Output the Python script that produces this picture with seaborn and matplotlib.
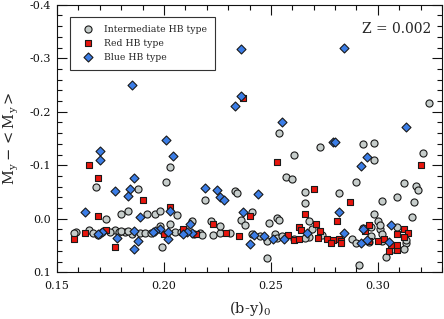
import matplotlib
matplotlib.use("Agg")
import matplotlib.pyplot as plt
import seaborn as sns
import pandas as pd
from matplotlib.ticker import MultipleLocator

# ---------------- data ----------------
inter_x = [0.168, 0.173, 0.180, 0.159, 0.165, 0.167, 0.169, 0.177, 0.158, 0.179,
           0.171, 0.175, 0.182, 0.183, 0.185, 0.188, 0.189, 0.191, 0.192, 0.194,
           0.196, 0.198, 0.198, 0.199, 0.201, 0.203, 0.203, 0.205, 0.206, 0.208,
           0.213, 0.214, 0.217, 0.218, 0.219, 0.222, 0.223, 0.226, 0.226, 0.231,
           0.233, 0.234, 0.236, 0.238, 0.180, 0.183, 0.241, 0.241, 0.245, 0.248,
           0.248, 0.249, 0.252, 0.253, 0.255, 0.253, 0.254, 0.254, 0.257, 0.260,
           0.261, 0.266, 0.266, 0.268, 0.268, 0.269, 0.274, 0.261, 0.266, 0.273,
           0.282, 0.290, 0.288, 0.290, 0.291, 0.293, 0.298, 0.298, 0.297, 0.301,
           0.298, 0.296, 0.300, 0.301, 0.302, 0.309, 0.312, 0.318, 0.319, 0.317,
           0.316, 0.321, 0.324, 0.302, 0.309, 0.297, 0.302, 0.313, 0.313, 0.307,
           0.304, 0.312, 0.293]
inter_y = [-0.059, 0.001, -0.008, 0.024, 0.021, 0.026, 0.030, 0.021, 0.027, 0.025,
           0.024, 0.024, 0.025, -0.014, 0.029, -0.056, 0.027, 0.027, -0.009, 0.026,
           -0.009, -0.014, 0.013, 0.052, -0.068, -0.097, 0.010, 0.024, -0.007, 0.025,
           0.005, 0.028, 0.027, 0.030, -0.035, 0.005, 0.030, 0.027, 0.014, 0.027,
           -0.051, -0.048, 0.002, 0.012, 0.022, 0.023, -0.012, 0.028, 0.032, 0.042,
           0.073, 0.007, 0.029, 0.035, 0.032, -0.002, 0.003, -0.160, -0.078, -0.075,
           -0.120, -0.050, -0.029, 0.005, 0.034, 0.020, 0.030, 0.037, 0.035, -0.135,
           -0.049, -0.069, 0.038, 0.045, 0.086, -0.139, -0.141, -0.110, 0.016, 0.020,
           -0.008, 0.044, 0.004, 0.011, -0.034, -0.041, -0.066, -0.062, -0.053, -0.031,
           -0.004, -0.123, -0.216, 0.029, 0.015, 0.032, 0.041, 0.046, 0.040, 0.057,
           0.071, 0.057, 0.018]

red_x = [0.165, 0.169, 0.169, 0.158, 0.163, 0.173, 0.177, 0.190, 0.203, 0.200,
         0.209, 0.215, 0.223, 0.229, 0.235, 0.237, 0.253, 0.320, 0.270, 0.287,
         0.266, 0.240, 0.281, 0.271, 0.263, 0.296, 0.312, 0.309, 0.314, 0.273,
         0.264, 0.258, 0.261, 0.263, 0.272, 0.276, 0.279, 0.282, 0.283, 0.278,
         0.283, 0.294, 0.300, 0.303, 0.305, 0.309, 0.312, 0.296, 0.306, 0.309]
red_y = [-0.100, -0.077, -0.005, 0.037, 0.027, 0.021, 0.052, -0.036, -0.022, 0.029,
         0.020, 0.029, 0.009, 0.027, 0.032, -0.226, -0.106, -0.101, -0.056, -0.032,
         -0.009, -0.006, 0.005, 0.009, 0.015, 0.012, 0.019, 0.028, 0.026, 0.023,
         0.021, 0.031, 0.039, 0.037, 0.035, 0.037, 0.040, 0.037, 0.042, 0.045,
         0.045, 0.022, 0.042, 0.038, 0.061, 0.059, 0.034, 0.041, 0.049, 0.049]

blue_x = [0.170, 0.170, 0.185, 0.201, 0.204, 0.177, 0.163, 0.171, 0.169, 0.178,
          0.184, 0.183, 0.186, 0.189, 0.186, 0.188, 0.186, 0.198, 0.203, 0.202,
          0.202, 0.196, 0.195, 0.219, 0.212, 0.213, 0.211, 0.209, 0.225, 0.226,
          0.228, 0.237, 0.236, 0.284, 0.236, 0.233, 0.255, 0.313, 0.279, 0.280,
          0.295, 0.292, 0.244, 0.240, 0.242, 0.247, 0.251, 0.256, 0.267, 0.282,
          0.284, 0.293, 0.292, 0.295, 0.306, 0.305]
blue_y = [-0.127, -0.110, -0.250, -0.147, -0.117, -0.052, -0.013, 0.025, 0.028, 0.035,
          -0.055, -0.042, -0.076, -0.004, 0.023, 0.041, 0.057, 0.019, -0.015, 0.038,
          0.025, 0.023, 0.024, -0.057, 0.009, 0.026, 0.025, 0.029, -0.053, -0.040,
          -0.035, -0.013, -0.318, -0.320, -0.230, -0.210, -0.181, -0.171, -0.143, -0.144,
          -0.116, -0.099, -0.046, 0.047, 0.030, 0.032, 0.037, 0.038, 0.026, -0.012,
          0.026, 0.019, 0.045, 0.040, 0.012, 0.044]

labels = ["Intermediate HB type", "Red HB type", "Blue HB type"]
x_ticks = [0.15, 0.20, 0.25, 0.30]
y_ticks = [-0.4, -0.3, -0.2, -0.1, 0.0, 0.1]

df_i = pd.DataFrame({"x": inter_x, "y": inter_y})
df_r = pd.DataFrame({"x": red_x, "y": red_y})
df_b = pd.DataFrame({"x": blue_x, "y": blue_y})

# ---------------- style ----------------
sns.set_style("ticks")
plt.rcParams["font.family"] = ["DejaVu Serif"]
plt.rcParams["mathtext.fontset"] = "dejavuserif"
plt.rcParams["axes.unicode_minus"] = False

fig = plt.figure(figsize=(4.44, 3.19), dpi=100)
ax = fig.add_axes([0.1284, 0.1464, 0.8671, 0.8389])

edge = "#1a1a1a"
sns.scatterplot(data=df_i, x="x", y="y", ax=ax, marker="o", s=26,
                color="#c6cdcb", edgecolor=edge, linewidth=0.8, label=labels[0], zorder=3)
sns.scatterplot(data=df_r, x="x", y="y", ax=ax, marker="s", s=22,
                color="#e8150d", edgecolor=edge, linewidth=0.8, label=labels[1], zorder=4)
sns.scatterplot(data=df_b, x="x", y="y", ax=ax, marker="D", s=21,
                color="#3b7de6", edgecolor=edge, linewidth=0.8, label=labels[2], zorder=5)

ax.set_xlim(0.15, 0.33)
ax.set_ylim(0.1, -0.4)
ax.set_xticks(x_ticks)
ax.set_xticklabels([f"{v:.2f}" for v in x_ticks])
ax.set_yticks(y_ticks)
ax.set_yticklabels([f"{v:.1f}" for v in y_ticks])
ax.xaxis.set_minor_locator(MultipleLocator(0.01))
ax.yaxis.set_minor_locator(MultipleLocator(0.02))
ax.tick_params(which="both", direction="in", top=True, right=True, width=0.8, colors="#111111")
ax.tick_params(which="major", length=7)
ax.tick_params(which="minor", length=3.5)
ax.tick_params(axis="x", which="major", labelsize=8, pad=6)
ax.tick_params(axis="y", which="major", labelsize=8, pad=4)
for sp in ax.spines.values():
    sp.set_visible(True)
    sp.set_linewidth(0.8)
    sp.set_color("#111111")

ax.set_xlabel(r"(b-y)$_0$", fontsize=10.5, labelpad=6)
ax.set_ylabel(r"$\mathrm{M_y} - <\mathrm{M_y}>$", fontsize=10.5)
ax.yaxis.set_label_coords(-0.094, 0.5)

ax.text(0.971, 0.909, "Z = 0.002", transform=ax.transAxes, ha="right", va="center",
        fontsize=10)

leg = ax.legend(loc="upper left", bbox_to_anchor=(0.0345, 0.955), borderaxespad=0,
                fontsize=6.7, frameon=True, fancybox=False, framealpha=1,
                edgecolor="#333333", labelspacing=0.55, borderpad=0.85,
                handlelength=2.0, handletextpad=0.8, scatterpoints=1)
leg.get_frame().set_linewidth(0.8)

fig.savefig("out.png", dpi=100)
